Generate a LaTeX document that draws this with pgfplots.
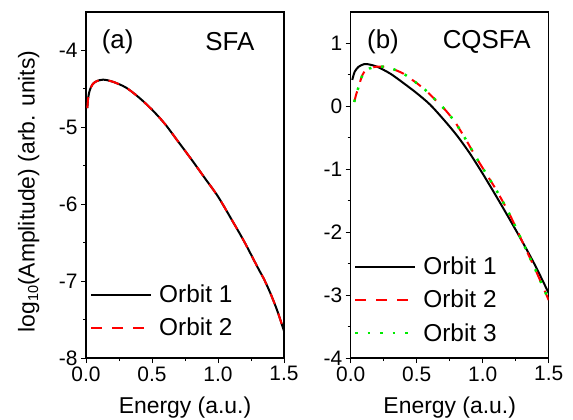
\documentclass[border=0pt]{standalone}
\usepackage{pgfplots}
\pgfplotsset{compat=1.18}
\usepackage{fontspec}
\setmainfont{Liberation Sans}
\definecolor{mygreen}{RGB}{0,235,0}
\definecolor{myred}{RGB}{255,0,0}

\pgfplotstableread{
E A
0.01 -4.75
0.015 -4.64
0.02 -4.58
0.03 -4.51
0.05 -4.44
0.08 -4.40
0.13 -4.38
0.2 -4.405
0.3 -4.48
0.4 -4.61
0.5 -4.77
0.6 -4.96
0.7 -5.19
0.8 -5.42
0.9 -5.66
1.0 -5.90
1.1 -6.19
1.2 -6.49
1.3 -6.82
1.35 -6.98
1.4 -7.17
1.45 -7.39
1.5 -7.65
}\sfaone

\pgfplotstableread{
E A
0.012 0.42
0.03 0.55
0.06 0.63
0.1 0.67
0.13 0.67
0.2 0.63
0.3 0.52
0.4 0.37
0.5 0.21
0.6 0.03
0.7 -0.20
0.8 -0.45
0.9 -0.74
1.0 -1.07
1.1 -1.42
1.2 -1.78
1.3 -2.15
1.4 -2.54
1.5 -2.97
}\cqone

\pgfplotstableread{
E A
0.027 0.07
0.04 0.18
0.06 0.31
0.08 0.45
0.1 0.54
0.14 0.60
0.19 0.63
0.25 0.63
0.3 0.61
0.4 0.52
0.46 0.43
0.5 0.37
0.56 0.27
0.6 0.19
0.7 -0.02
0.75 -0.14
0.8 -0.28
0.87 -0.52
0.95 -0.81
1.05 -1.15
1.1 -1.32
1.2 -1.70
1.3 -2.15
1.4 -2.60
1.5 -3.08
}\cqtwo

\begin{document}
\begin{tikzpicture}[x=1bp,y=1bp]
\useasboundingbox (0,0) rectangle (573,419);
\pgfplotsset{
  panel/.style={
    scale only axis, anchor=south west,
    width=198bp, height=346bp,
    xmin=0, xmax=1.5, clip mode=individual,
    xtick={0,0.5,1,1.5}, minor x tick num=1, minor y tick num=1,
    axis line style={line width=1.1bp},
    tick align=outside, xtick pos=bottom, ytick pos=left,
    major tick length=5bp, minor tick length=3bp,
    every tick/.style={black, line width=1bp},
    /pgf/number format/assume math mode=true,
    xticklabel style={/pgf/number format/.cd, fixed, fixed zerofill, precision=1},
    tick label style={font=\fontsize{21}{21}\selectfont},
    label style={font=\fontsize{23}{23}\selectfont},
    xlabel={Energy (a.u.)},
    xlabel style={at={(axis description cs:0.5,-0.142)}, anchor=center},
    legend cell align=left,
    legend style={draw=none, fill=none, font=\fontsize{24.5}{24.5}\selectfont,
      anchor=south west, row sep=10bp, column sep=5bp, inner sep=0pt,
      nodes={inner sep=2bp}},
    legend image code/.code={\draw[##1] (0bp,0bp) -- (60bp,0bp);},
  },
}
\begin{axis}[panel, at={(86bp,61bp)},
  ymin=-8, ymax=-3.5, ytick={-8,-7,-6,-5,-4},
  legend style={at={(rel axis cs:0.02,0.053)}},
]
\addplot[black, line width=2bp, smooth] table[x=E,y=A] {\sfaone};
\addlegendentry{Orbit 1}
\addplot[myred, line width=2bp, smooth, dash pattern=on 11bp off 10bp] table[x=E,y=A] {\sfaone};
\addlegendentry{Orbit 2}
\node[font=\fontsize{26}{26}\selectfont, anchor=center] at (axis cs:0.24,-3.89) {(a)};
\node[font=\fontsize{26}{26}\selectfont, anchor=center] at (axis cs:1.09,-3.89) {SFA};
\node[font=\fontsize{23}{23}\selectfont, rotate=90, anchor=center, inner sep=0pt]
  at (rel axis cs:-0.29,0.481) {log\raisebox{-0.3ex}{\fontsize{14.5}{14.5}\selectfont 10}(Amplitude) (arb. units)};
\end{axis}

\begin{axis}[panel, at={(350.7bp,61bp)},
  ymin=-4, ymax=1.5, ytick={-4,-3,-2,-1,0,1},
  legend style={at={(rel axis cs:0.015,0.038)}},
]
\addplot[black, line width=2bp, smooth] table[x=E,y=A] {\cqone};
\addlegendentry{Orbit 1}
\addplot[myred, line width=2bp, smooth, dash pattern=on 11bp off 10bp] table[x=E,y=A] {\cqtwo};
\addlegendentry{Orbit 2}
\addplot[mygreen, line width=2.5bp, smooth, dash pattern=on 2.5bp off 10bp] table[x=E,y=A] {\cqtwo};
\addlegendentry{Orbit 3}
\node[font=\fontsize{26}{26}\selectfont, anchor=center] at (axis cs:0.245,1.02) {(b)};
\node[font=\fontsize{26}{26}\selectfont, anchor=center] at (axis cs:1.03,1.02) {CQSFA};
\end{axis}
\end{tikzpicture}
\end{document}
